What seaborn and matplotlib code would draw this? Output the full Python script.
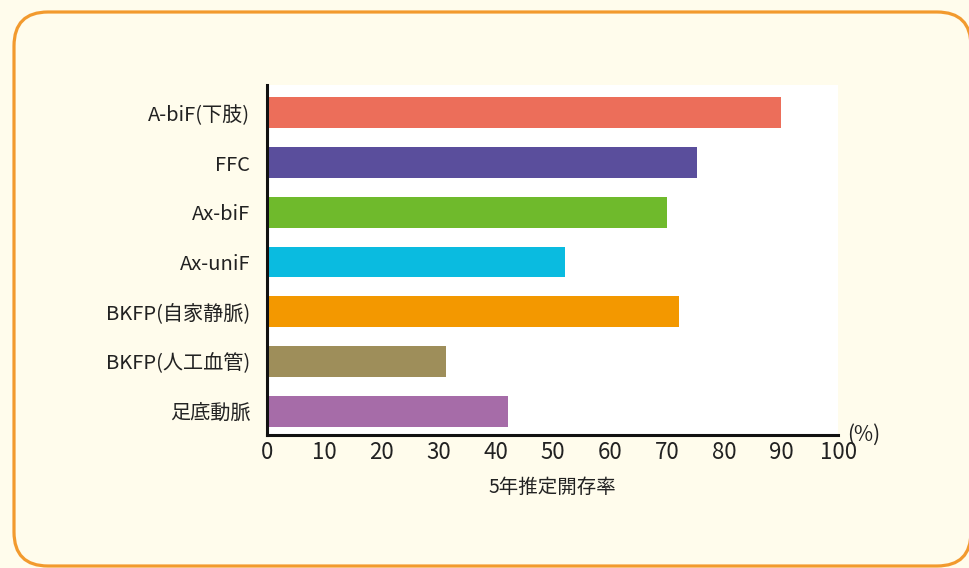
import matplotlib
matplotlib.use("Agg")
import matplotlib.pyplot as plt
import seaborn as sns
import pandas as pd
from matplotlib.patches import FancyBboxPatch
from matplotlib.transforms import IdentityTransform

categories = ["A-biF(下肢)", "FFC", "Ax-biF", "Ax-uniF", "BKFP(自家静脈)", "BKFP(人工血管)", "足底動脈"]
values = [90, 75.3, 70.1, 52.1, 72.2, 31.4, 42.2]
colors = ["#EC6E5A", "#5A4E9C", "#6FBA2C", "#0ABBE0", "#F39800", "#9E8E5A", "#A66CA8"]
xticks = [0, 10, 20, 30, 40, 50, 60, 70, 80, 90, 100]

sns.set_style("white")
plt.rcParams['font.family'] = ['Noto Sans CJK JP', 'DejaVu Sans']

df = pd.DataFrame({"cat": categories, "val": values})

fig = plt.figure(figsize=(9.7, 5.68), dpi=100)
fig.patch.set_facecolor("#FFFCEC")

# rounded orange frame
frame = FancyBboxPatch((14, 2), 957, 554, boxstyle="round,pad=0,rounding_size=34",
                       transform=IdentityTransform(), facecolor="#FFFCEC",
                       edgecolor="#F29A2E", linewidth=2.3, zorder=0)
fig.add_artist(frame)

ax = fig.add_axes([0.2753, 0.2342, 0.5887, 0.6162])
ax.set_facecolor("white")
sns.barplot(data=df, y="cat", x="val", hue="cat", palette=colors, orient="h",
            width=0.62, saturation=1, linewidth=0, legend=False, ax=ax)

ax.set_xlim(0, 100)
ax.set_ylim(6.48, -0.56)
ax.set_xticks(xticks)
ax.set_xticklabels([str(t) for t in xticks], fontsize=16, color="#222222")
ax.tick_params(axis="x", direction="in", length=5, width=1.5, color="#222222", pad=4)
ax.tick_params(axis="y", length=0, labelsize=14.5, labelcolor="#222222", pad=12)
for s in ["top", "right"]:
    ax.spines[s].set_visible(False)
for s in ["left", "bottom"]:
    ax.spines[s].set_linewidth(2.2)
    ax.spines[s].set_color("#111111")
ax.set_ylabel("")
ax.set_xlabel("5年推定開存率", fontsize=14, color="#222222", labelpad=10)
ax.text(1.016, 0.0, "(%)", transform=ax.transAxes, ha="left", va="center",
        fontsize=15, color="#222222")

fig.savefig("out.png", dpi=100, facecolor=fig.get_facecolor())
